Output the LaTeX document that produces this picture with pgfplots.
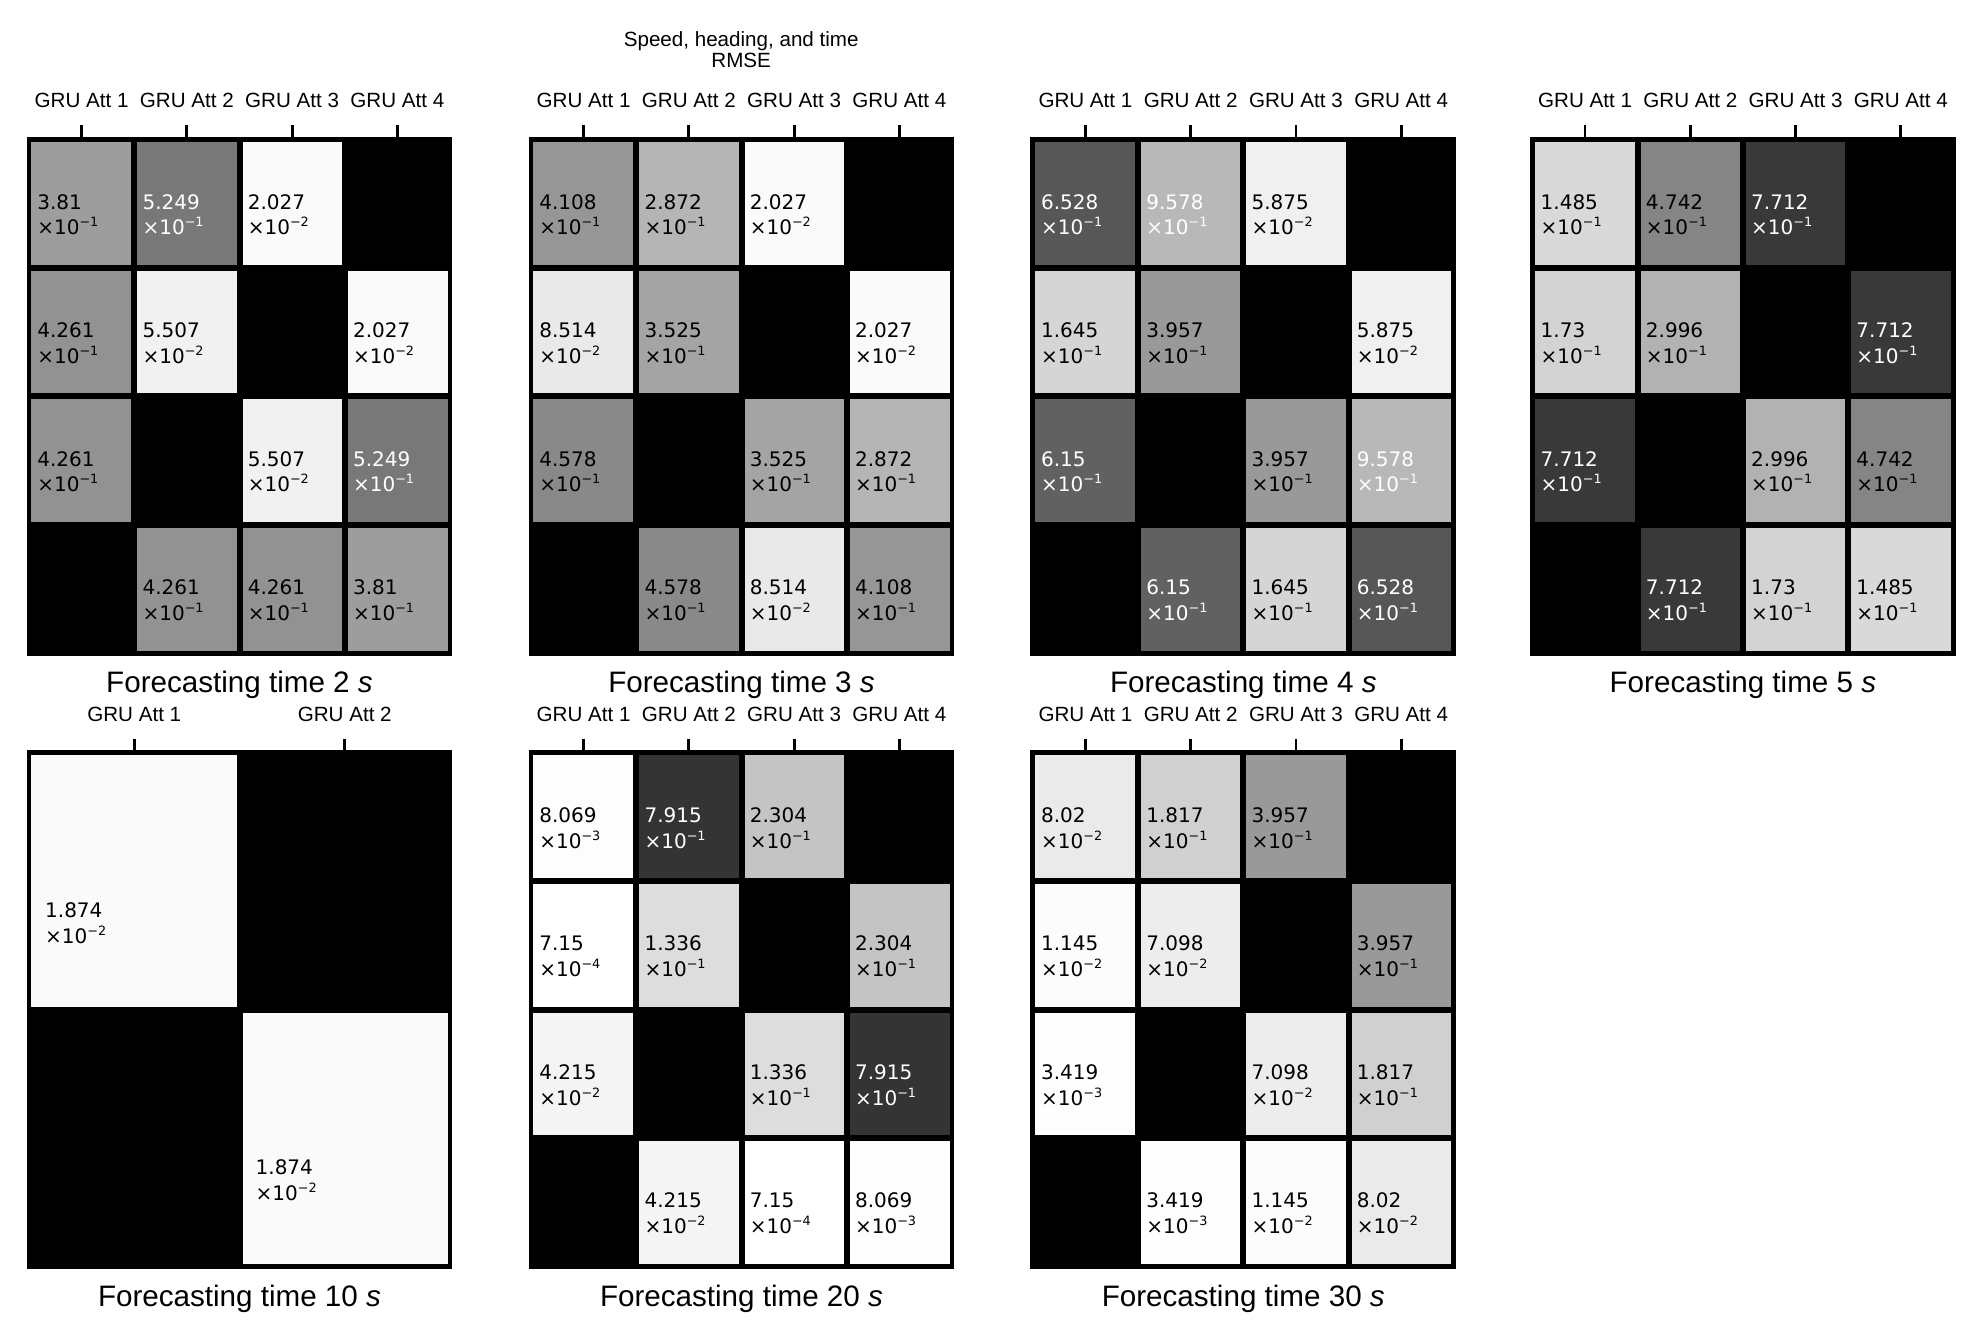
\documentclass[border=0pt]{standalone}
\usepackage{fontspec}
\setmainfont{Liberation Sans}
\newfontfamily\cellfont{DejaVu Sans}
\usepackage{pgfplots}
\pgfplotsset{compat=1.18}
\usepackage{pgfplotstable}

% label: mantissa/exponent/textcolour
\def\cellLab#1/#2/#3\relax{\color{#3}#1\\\color{#3}×10\raisebox{3.9pt}{\fontsize{6.4}{7}\selectfont −#2}}

% columns: x y colourvalue labely label
\pgfplotstableread{
x y c ly m
0 0 0.381 0 3.81/1/black
1 0 0.5249 0 5.249/1/white
2 0 0.02027 0 2.027/2/black
3 0 1 nan 0/0/black
0 1 0.4261 1 4.261/1/black
1 1 0.05507 1 5.507/2/black
2 1 1 nan 0/0/black
3 1 0.02027 1 2.027/2/black
0 2 0.4261 2 4.261/1/black
1 2 1 nan 0/0/black
2 2 0.05507 2 5.507/2/black
3 2 0.5249 2 5.249/1/white
0 3 1 nan 0/0/black
1 3 0.4261 3 4.261/1/black
2 3 0.4261 3 4.261/1/black
3 3 0.381 3 3.81/1/black
}\tA
\pgfplotstableread{
x y c ly m
0 0 0.4108 0 4.108/1/black
1 0 0.2872 0 2.872/1/black
2 0 0.02027 0 2.027/2/black
3 0 1 nan 0/0/black
0 1 0.08514 1 8.514/2/black
1 1 0.3525 1 3.525/1/black
2 1 1 nan 0/0/black
3 1 0.02027 1 2.027/2/black
0 2 0.4578 2 4.578/1/black
1 2 1 nan 0/0/black
2 2 0.3525 2 3.525/1/black
3 2 0.2872 2 2.872/1/black
0 3 1 nan 0/0/black
1 3 0.4578 3 4.578/1/black
2 3 0.08514 3 8.514/2/black
3 3 0.4108 3 4.108/1/black
}\tB
\pgfplotstableread{
x y c ly m
0 0 0.6528 0 6.528/1/white
1 0 0.275 0 9.578/1/white
2 0 0.05875 0 5.875/2/black
3 0 1 nan 0/0/black
0 1 0.1645 1 1.645/1/black
1 1 0.3957 1 3.957/1/black
2 1 1 nan 0/0/black
3 1 0.05875 1 5.875/2/black
0 2 0.615 2 6.15/1/white
1 2 1 nan 0/0/black
2 2 0.3957 2 3.957/1/black
3 2 0.275 2 9.578/1/white
0 3 1 nan 0/0/black
1 3 0.615 3 6.15/1/white
2 3 0.1645 3 1.645/1/black
3 3 0.6528 3 6.528/1/white
}\tC
\pgfplotstableread{
x y c ly m
0 0 0.1485 0 1.485/1/black
1 0 0.4742 0 4.742/1/black
2 0 0.7712 0 7.712/1/white
3 0 1 nan 0/0/black
0 1 0.173 1 1.73/1/black
1 1 0.2996 1 2.996/1/black
2 1 1 nan 0/0/black
3 1 0.7712 1 7.712/1/white
0 2 0.7712 2 7.712/1/white
1 2 1 nan 0/0/black
2 2 0.2996 2 2.996/1/black
3 2 0.4742 2 4.742/1/black
0 3 1 nan 0/0/black
1 3 0.7712 3 7.712/1/white
2 3 0.173 3 1.73/1/black
3 3 0.1485 3 1.485/1/black
}\tD
\pgfplotstableread{
x y c ly m
0 0 0.01874 0 1.874/2/black
1 0 1 nan 0/0/black
0 1 1 nan 0/0/black
1 1 0.01874 1 1.874/2/black
}\tE
\pgfplotstableread{
x y c ly m
0 0 0.008069 0 8.069/3/black
1 0 0.7915 0 7.915/1/white
2 0 0.2304 0 2.304/1/black
3 0 1 nan 0/0/black
0 1 0.000715 1 7.15/4/black
1 1 0.1336 1 1.336/1/black
2 1 1 nan 0/0/black
3 1 0.2304 1 2.304/1/black
0 2 0.04215 2 4.215/2/black
1 2 1 nan 0/0/black
2 2 0.1336 2 1.336/1/black
3 2 0.7915 2 7.915/1/white
0 3 1 nan 0/0/black
1 3 0.04215 3 4.215/2/black
2 3 0.000715 3 7.15/4/black
3 3 0.008069 3 8.069/3/black
}\tF
\pgfplotstableread{
x y c ly m
0 0 0.0802 0 8.02/2/black
1 0 0.1817 0 1.817/1/black
2 0 0.3957 0 3.957/1/black
3 0 1 nan 0/0/black
0 1 0.01145 1 1.145/2/black
1 1 0.07098 1 7.098/2/black
2 1 1 nan 0/0/black
3 1 0.3957 1 3.957/1/black
0 2 0.003419 2 3.419/3/black
1 2 1 nan 0/0/black
2 2 0.07098 2 7.098/2/black
3 2 0.1817 2 1.817/1/black
0 3 1 nan 0/0/black
1 3 0.003419 3 3.419/3/black
2 3 0.01145 3 1.145/2/black
3 3 0.0802 3 8.02/2/black
}\tG

\pgfplotsset{
  hm/.style={
    scale only axis, width=210.5pt, height=257pt,
    xmin=-0.5, xmax=3.5, ymin=-0.5, ymax=3.5, y dir=reverse,
    axis background/.style={fill=black},
    axis on top,
    xtick={0,1,2,3},
    xticklabels={GRU Att 1,GRU Att 2,GRU Att 3,GRU Att 4},
    ytick=\empty,
    xtick pos=right, xticklabel pos=right,
    tick align=outside, major tick length=7pt,
    xtick style={black, line width=1.4pt},
    axis line style={black, line width=2.4pt},
    xticklabel style={font=\fontsize{10.3}{12}\selectfont, anchor=base, inner sep=0pt, yshift=8.85pt},
    extra x ticks={0.5,1.5,2.5}, extra x tick labels={},
    extra y ticks={0.5,1.5,2.5}, extra y tick labels={},
    extra tick style={grid=major, major grid style={black, line width=3pt}, major tick length=0pt},
    colormap={grayr}{gray(0cm)=(1); gray(1cm)=(0)},
    point meta min=0, point meta max=1,
    title style={at={(0.5,0)}, anchor=base, yshift=-25.8pt, font=\fontsize{14.8}{17}\selectfont},
  },
  hmtwo/.style={hm, xmax=1.5, ymax=1.5, xtick={0,1}, xticklabels={GRU Att 1,GRU Att 2},
    extra x ticks={0.5}, extra y ticks={0.5}},
  cells/.style={matrix plot*, mesh/cols=#1, mesh/rows=#1, point meta=explicit},
  labs/.style={only marks, mark=none, point meta=explicit symbolic,
    nodes near coords={\expandafter\cellLab\pgfplotspointmeta\relax},
    every node near coord/.append style={anchor=west, align=left, inner sep=0pt,
      font=\cellfont\fontsize{10}{12.8}\selectfont, yshift=#1}},
}

\begin{document}
\begin{tikzpicture}
\useasboundingbox (0,0) rectangle (991pt,672pt);

\begin{axis}[hm, at={(14.5pt,345.35pt)}, anchor=south west, title={Forecasting time 2 \textit{s}}]
\addplot[cells=4] table[x=x, y=y, meta=c] {\tA};
\addplot[labs=-5.5pt] table[x expr=\thisrow{x}-0.425, y=ly, meta=m] {\tA};
\end{axis}

\begin{axis}[hm, at={(265.5pt,345.35pt)}, anchor=south west, title={Forecasting time 3 \textit{s}}]
\addplot[cells=4] table[x=x, y=y, meta=c] {\tB};
\addplot[labs=-5.5pt] table[x expr=\thisrow{x}-0.425, y=ly, meta=m] {\tB};
\end{axis}

\begin{axis}[hm, at={(516.4pt,345.35pt)}, anchor=south west, title={Forecasting time 4 \textit{s}}]
\addplot[cells=4] table[x=x, y=y, meta=c] {\tC};
\addplot[labs=-5.5pt] table[x expr=\thisrow{x}-0.425, y=ly, meta=m] {\tC};
\end{axis}

\begin{axis}[hm, at={(766.2pt,345.35pt)}, anchor=south west, title={Forecasting time 5 \textit{s}}]
\addplot[cells=4] table[x=x, y=y, meta=c] {\tD};
\addplot[labs=-5.5pt] table[x expr=\thisrow{x}-0.425, y=ly, meta=m] {\tD};
\end{axis}

\begin{axis}[hmtwo, at={(14.5pt,38.65pt)}, anchor=south west, title={Forecasting time 10 \textit{s}}]
\addplot[cells=2] table[x=x, y=y, meta=c] {\tE};
\addplot[labs=-21pt] table[x expr=\thisrow{x}-0.425, y=ly, meta=m] {\tE};
\end{axis}

\begin{axis}[hm, at={(265.5pt,38.65pt)}, anchor=south west, title={Forecasting time 20 \textit{s}}]
\addplot[cells=4] table[x=x, y=y, meta=c] {\tF};
\addplot[labs=-5.5pt] table[x expr=\thisrow{x}-0.425, y=ly, meta=m] {\tF};
\end{axis}

\begin{axis}[hm, at={(516.4pt,38.65pt)}, anchor=south west, title={Forecasting time 30 \textit{s}}]
\addplot[cells=4] table[x=x, y=y, meta=c] {\tG};
\addplot[labs=-5.5pt] table[x expr=\thisrow{x}-0.425, y=ly, meta=m] {\tG};
\end{axis}

\node[anchor=base, font=\fontsize{10.3}{12}\selectfont, inner sep=0pt] at (370.6pt,648.7pt) {Speed, heading, and time};
\node[anchor=base, font=\fontsize{10.3}{12}\selectfont, inner sep=0pt] at (370.6pt,638.35pt) {RMSE};
\end{tikzpicture}
\end{document}
